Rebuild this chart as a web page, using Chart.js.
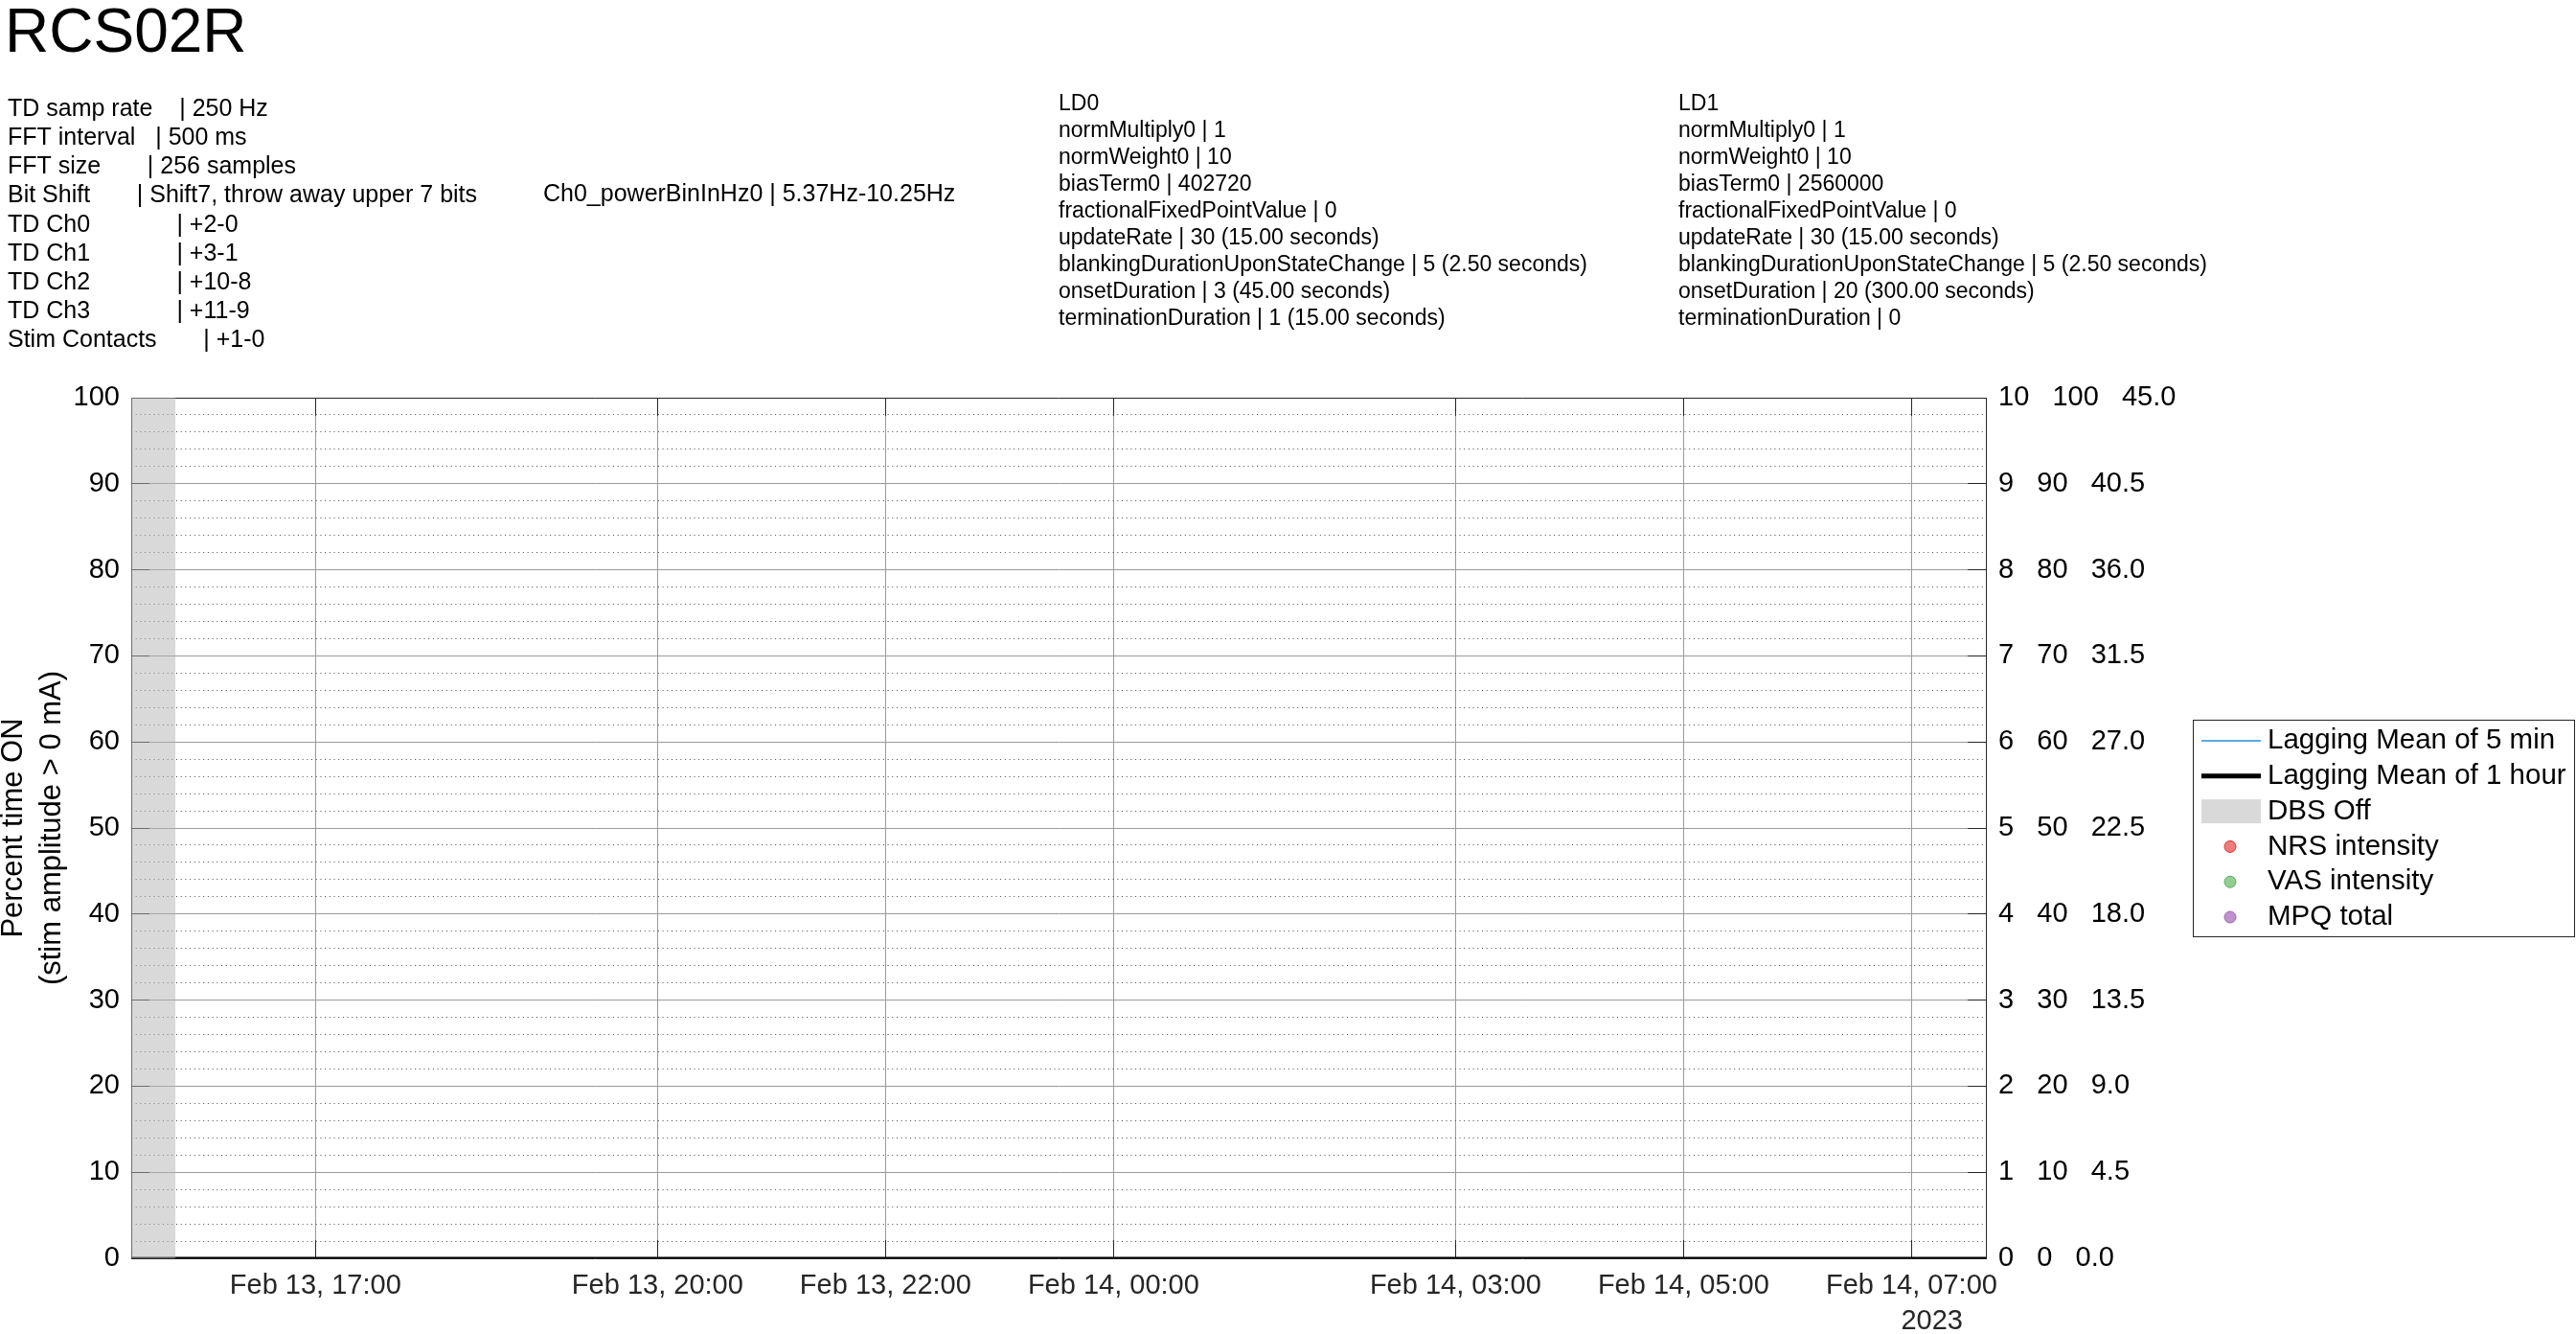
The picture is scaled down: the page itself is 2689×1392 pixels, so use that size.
<!DOCTYPE html>
<html><head><meta charset="utf-8">
<script src="https://cdn.jsdelivr.net/npm/chart.js@4.4.1/dist/chart.umd.min.js"></script>
<style>html,body{margin:0;padding:0;background:#fff;}canvas{display:block}</style>
</head><body>
<canvas id="c" width="2689" height="1392"></canvas>
<script>
const FONT = "'Liberation Sans', Arial, Helvetica, sans-serif";

// ---- text content ----
const chartTitle = 'RCS02R';
const deviceInfo = [
  'TD samp rate    | 250 Hz',
  'FFT interval   | 500 ms',
  'FFT size       | 256 samples',
  'Bit Shift       | Shift7, throw away upper 7 bits',
  'TD Ch0             | +2-0',
  'TD Ch1             | +3-1',
  'TD Ch2             | +10-8',
  'TD Ch3             | +11-9',
  'Stim Contacts       | +1-0'
];
const powerBandInfo = 'Ch0_powerBinInHz0 | 5.37Hz-10.25Hz';
const ld0Info = [
  'LD0', 'normMultiply0 | 1', 'normWeight0 | 10', 'biasTerm0 | 402720',
  'fractionalFixedPointValue | 0', 'updateRate | 30 (15.00 seconds)',
  'blankingDurationUponStateChange | 5 (2.50 seconds)',
  'onsetDuration | 3 (45.00 seconds)', 'terminationDuration | 1 (15.00 seconds)'
];
const ld1Info = [
  'LD1', 'normMultiply0 | 1', 'normWeight0 | 10', 'biasTerm0 | 2560000',
  'fractionalFixedPointValue | 0', 'updateRate | 30 (15.00 seconds)',
  'blankingDurationUponStateChange | 5 (2.50 seconds)',
  'onsetDuration | 20 (300.00 seconds)', 'terminationDuration | 0'
];
const yTitle = ['Percent time ON', '(stim amplitude > 0 mA)'];

// ---- x axis (hours since Feb 13 00:00) ----
const xRange = [15.384, 31.652];
const xTickHours = [17, 20, 22, 24, 27, 29, 31];
const xTickLabels = ['Feb 13, 17:00', 'Feb 13, 20:00', 'Feb 13, 22:00', 'Feb 14, 00:00',
                     'Feb 14, 03:00', 'Feb 14, 05:00', 'Feb 14, 07:00'];
const xYearLabel = '2023';

// ---- right axis tick labels ----
const nrsTicks = ['0','1','2','3','4','5','6','7','8','9','10'];
const vasTicks = ['0','10','20','30','40','50','60','70','80','90','100'];
const mpqTicks = ['0.0','4.5','9.0','13.5','18.0','22.5','27.0','31.5','36.0','40.5','45.0'];

// ---- series ----
const meanTimes = [15.384, 31.652];
const lagMean5min = [0, 0];
const lagMean1hour = [0, 0];
const dbsOffTimes = [15.384, 15.773];
const nrsPoints = [];
const vasPoints = [];
const mpqPoints = [];

const GRID = '#9a9a9a';
const AXIS = '#262626';

const textPlugin = {
  id: 'textBlocks',
  afterDraw(chart) {
    const ctx = chart.ctx;
    ctx.save();
    ctx.fillStyle = '#000';
    ctx.textAlign = 'left';
    ctx.textBaseline = 'alphabetic';
    ctx.font = `64px ${FONT}`;
    ctx.fillText(chartTitle, 5, 54);
    ctx.textBaseline = 'middle';
    ctx.font = `25px ${FONT}`;
    deviceInfo.forEach((s, i) => ctx.fillText(s, 8, 114 + 30.2 * i));
    ctx.fillText(powerBandInfo, 567, 203);
    ctx.font = `23px ${FONT}`;
    ld0Info.forEach((s, i) => ctx.fillText(s, 1105, 109 + 28 * i));
    ld1Info.forEach((s, i) => ctx.fillText(s, 1752, 109 + 28 * i));
    const xs = chart.scales.x;
    ctx.font = `29px ${FONT}`;
    ctx.fillStyle = AXIS;
    ctx.textAlign = 'right';
    ctx.fillText(xYearLabel, xs.right - 24, 1379);
    ctx.restore();
  }
};

const legendPlugin = {
  id: 'boxLegend',
  afterDraw(chart) {
    const ctx = chart.ctx, area = chart.chartArea;
    const left = chart.scales.yRight.right;
    const w = 398, h = 226;
    const top = (area.top + area.bottom) / 2 - h / 2;
    ctx.save();
    ctx.fillStyle = '#fff';
    ctx.fillRect(left, top, w, h);
    ctx.strokeStyle = AXIS; ctx.lineWidth = 1;
    ctx.strokeRect(left + 0.5, top + 0.5, w, h);
    ctx.font = `29.5px ${FONT}`;
    ctx.textBaseline = 'middle'; ctx.textAlign = 'left';
    chart.data.datasets.forEach((ds, i) => {
      const y = top + 22 + 36.8 * i;
      if (ds.legendSymbol === 'line') {
        ctx.strokeStyle = ds.borderColor; ctx.lineWidth = ds.legendWidth;
        ctx.beginPath(); ctx.moveTo(left + 9, y); ctx.lineTo(left + 71, y); ctx.stroke();
      } else if (ds.legendSymbol === 'rect') {
        ctx.fillStyle = ds.backgroundColor;
        ctx.fillRect(left + 9, y - 12.5, 62, 25);
      } else {
        ctx.beginPath(); ctx.arc(left + 39, y, 6, 0, Math.PI * 2);
        ctx.fillStyle = ds.backgroundColor; ctx.fill();
        ctx.strokeStyle = ds.borderColor; ctx.lineWidth = 1; ctx.stroke();
      }
      ctx.fillStyle = '#000';
      ctx.fillText(ds.label, left + 78, y);
    });
    ctx.restore();
  }
};

Chart.defaults.font.family = FONT;

new Chart(document.getElementById('c'), {
  type: 'line',
  data: {
    datasets: [
      { label: 'Lagging Mean of 5 min', legendSymbol: 'line', legendWidth: 2,
        data: meanTimes.map((t, i) => ({x: t, y: lagMean5min[i]})),
        borderColor: '#5aaae0', borderWidth: 2, pointRadius: 0, order: 3 },
      { label: 'Lagging Mean of 1 hour', legendSymbol: 'line', legendWidth: 5,
        data: meanTimes.map((t, i) => ({x: t, y: lagMean1hour[i]})),
        borderColor: '#000', borderWidth: 3, pointRadius: 0, order: 2 },
      { label: 'DBS Off', legendSymbol: 'rect',
        data: dbsOffTimes.map(t => ({x: t, y: 100})),
        backgroundColor: 'rgba(179,179,179,0.5)', borderWidth: 0, pointRadius: 0,
        fill: 'start', order: 0 },
      { label: 'NRS intensity', legendSymbol: 'circle', data: nrsPoints, showLine: false,
        backgroundColor: 'rgba(232,80,80,0.75)', borderColor: '#e03030', order: 1 },
      { label: 'VAS intensity', legendSymbol: 'circle', data: vasPoints, showLine: false,
        backgroundColor: 'rgba(110,190,110,0.75)', borderColor: '#5aae5a', order: 1 },
      { label: 'MPQ total', legendSymbol: 'circle', data: mpqPoints, showLine: false,
        backgroundColor: 'rgba(170,110,190,0.75)', borderColor: '#9a66aa', order: 1 }
    ]
  },
  options: {
    responsive: false,
    animation: false,
    devicePixelRatio: 1,
    layout: { padding: { top: 415, right: 400, left: 0, bottom: 0 } },
    plugins: { legend: { display: false }, tooltip: { enabled: false } },
    scales: {
      x: {
        type: 'linear', position: 'bottom', min: xRange[0], max: xRange[1],
        afterBuildTicks: a => { a.ticks = xTickHours.map(v => ({value: v})); },
        afterFit: s => { s.height = 79; },
        ticks: { autoSkip: false, maxRotation: 0, padding: 31, color: AXIS,
                 font: { size: 29 }, callback: (v, i) => xTickLabels[i] },
        grid: { color: GRID, lineWidth: 1, drawTicks: true, tickLength: -19, tickColor: AXIS },
        border: { color: AXIS, width: 1 }
      },
      xTop: {
        type: 'linear', position: 'top', min: xRange[0], max: xRange[1],
        afterBuildTicks: a => { a.ticks = xTickHours.map(v => ({value: v})); },
        afterFit: s => { s.height = 0; },
        ticks: { display: false },
        grid: { drawOnChartArea: false, drawTicks: true, tickLength: -19, tickColor: AXIS },
        border: { color: AXIS, width: 1 }
      },
      y: {
        type: 'linear', position: 'left', min: 0, max: 100, z: 1,
        afterFit: s => { s.width = 137; },
        ticks: { stepSize: 10, padding: 31, color: '#000', font: { size: 29 } },
        grid: {
          color: c => (c.tick && (c.tick.value === 0 || c.tick.value === 100)) ? 'rgba(0,0,0,0)' : GRID,
          lineWidth: 1, drawTicks: true, tickLength: -19, tickColor: AXIS
        },
        border: { color: AXIS, width: 1 },
        title: { display: true, text: yTitle, color: '#000',
                 font: { size: 31, lineHeight: 1.3 }, padding: { top: -5.5, bottom: 0 } }
      },
      yMinor: {
        type: 'linear', position: 'left', min: 0, max: 100, z: 1,
        afterFit: s => { s.width = 0; },
        ticks: { display: false, stepSize: 2 },
        grid: {
          color: c => (c.tick && c.tick.value % 10 === 0) ? 'rgba(0,0,0,0)' : '#4a4a4a',
          lineWidth: 1, drawTicks: false
        },
        border: { display: false, dash: [1, 3.7] }
      },
      yRight: {
        type: 'linear', position: 'right', min: 0, max: 100,
        afterFit: s => { s.width = 216; },
        ticks: { stepSize: 10, padding: 32, color: '#000', font: { size: 29 },
                 callback: (v, i) => `${nrsTicks[i]}   ${vasTicks[i]}   ${mpqTicks[i]}` },
        grid: { drawOnChartArea: false, drawTicks: true, tickLength: -19, tickColor: AXIS },
        border: { color: AXIS, width: 1 }
      }
    }
  },
  plugins: [textPlugin, legendPlugin]
});
</script>
</body></html>
